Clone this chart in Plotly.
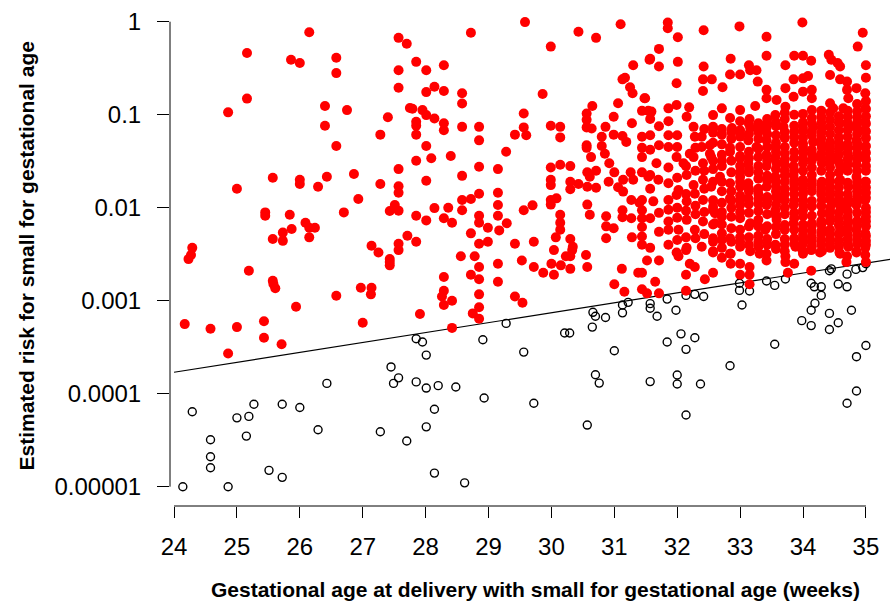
import plotly.graph_objects as go

# ---------------- data ----------------
# Red filled points: estimated risk above the cut-off line
red_x_a = [26.15,25.16,25.86,26.00,26.58,26.58,27.57,27.70,27.57,27.57,25.16,24.86,26.40,26.75,26.40,26.58,27.40,27.28,27.75,27.57,
           25.57,26.00,26.00,25.00,26.29,26.43,26.86,27.28,27.57,27.57,26.93,26.70,25.45,25.45,25.84,27.43,27.51,27.57,26.09,26.15,
           26.24,26.15,25.73,25.87,25.57,25.73,24.29,24.27,24.23,27.14,27.25,27.57,27.57,27.71,27.43,25.19,25.57,25.58,25.61,25.94,
           26.58,26.97,27.14,27.13,27.43,27.43,24.17,24.58,25.00,25.43,25.43,25.71,24.86,27.00,27.91,
           27.85,27.79,27.95,27.85,27.85,27.85,27.85,27.85,27.85]
red_y_a = [0.77,0.46,0.39,0.36,0.41,0.28,0.67,0.58,0.30,0.195,0.149,0.106,0.124,0.112,0.076,0.046,0.094,0.061,0.118,0.026,
           0.021,0.020,0.018,0.016,0.0168,0.0215,0.023,0.018,0.017,0.0145,0.0124,0.0089,0.0089,0.0082,0.0084,0.0092,0.0107,0.0093,0.0069,0.0061,
           0.0061,0.0048,0.0054,0.0059,0.0046,0.0044,0.0037,0.0031,0.0028,0.0039,0.0033,0.0041,0.0035,0.0050,0.0028,0.0021,0.00164,0.00151,0.00136,0.00086,
           0.00113,0.00138,0.00138,0.00117,0.0026,0.0024,0.00056,0.00050,0.00052,0.00060,0.00040,0.00034,0.00027,0.00058,0.00072,
           0.37,0.116,0.112,0.084,0.076,0.061,0.032,0.0082,0.0043]

red_x_b = [28.72,29.58,29.99,28.01,28.29,28.01,28.14,28.29,28.58,28.58,28.01,28.14,28.29,28.29,28.58,28.85,28.85,28.01,28.09,28.40,
           28.01,28.58,28.85,29.15,29.28,29.56,29.56,29.60,29.42,29.86,29.99,29.99,29.99,29.99,29.99,29.99,29.70,29.56,29.42,29.72,
           29.15,29.15,29.15,29.29,29.17,28.99,28.85,28.85,28.85,28.72,28.58,28.58,28.72,28.85,28.99,28.14,28.36,28.29,28.42,28.01,
           28.56,28.78,29.15,28.85,28.72,28.85,28.29,29.15,29.53,29.72,29.87,28.29,28.26,28.29,28.42,28.85,28.85,28.75,28.85,29.42,
           29.54,28.42]
red_y_b = [0.76,0.99,0.54,0.30,0.34,0.175,0.20,0.18,0.17,0.132,0.099,0.091,0.081,0.068,0.074,0.074,0.053,0.046,0.034,0.036,
           0.0195,0.022,0.0276,0.026,0.040,0.103,0.073,0.060,0.061,0.167,0.076,0.027,0.020,0.0175,0.0121,0.0108,0.0106,0.0094,0.0041,0.0043,
           0.0145,0.0107,0.0082,0.0068,0.0057,0.0061,0.0141,0.0082,0.0069,0.0124,0.0121,0.0094,0.0053,0.0041,0.0043,0.0099,0.0100,0.0077,0.0069,0.0073,
           0.0030,0.0030,0.0025,0.0023,0.0019,0.0017,0.0018,0.0016,0.0027,0.0023,0.0020,0.00128,0.00111,0.0009,0.0010,0.00117,0.00085,0.00073,0.00064,0.00111,
           0.00095,0.00051]

red_x_c = [30.00,30.04,30.15,30.23,30.30,30.30,30.04,30.33,30.55,30.57,31.12,31.00,31.16,31.38,31.44,31.52,31.44,31.52,31.71,31.65,31.71,
           30.43,30.71,31.10,31.30,31.56,
           30.14,30.14,30.14,30.30,30.30,30.30,30.43,30.57,30.61,30.71,30.57,30.71,30.56,30.56,30.56,30.64,30.65,30.56,30.56,30.63,
           30.80,30.80,30.85,30.86,30.92,30.99,30.99,31.00,30.91,31.06,31.13,31.19,31.13,31.17,31.25,31.29,31.48,31.28,31.44,31.54,
           31.44,31.44,31.44,31.26,31.44,31.54,31.14,31.06,31.14,31.27,31.44,31.13,31.13,31.27,31.44,31.44,31.44,31.44,31.28,31.44,
           30.87,30.87,30.87,30.99,30.57,30.61,30.14,30.14,30.14,30.07,30.30,30.34,30.08,31.30,
           31.85,31.85,31.71,31.57,31.71,31.49,31.86,31.59,31.57,31.86,31.67,31.86,31.99,31.57,31.70,31.86,31.40,31.62,31.86,31.99,
           31.57,31.86,31.57,31.86,31.99,31.99,31.99,
           31.57,31.57,31.57,31.71,31.71,31.71,31.71,31.86,31.86,31.86,31.86]
red_y_c = [0.0025,0.0019,0.0024,0.0030,0.0030,0.0022,0.0035,0.0035,0.0031,0.0023,0.0022,0.0015,0.00125,0.0020,0.0020,0.0027,0.00133,0.0012,0.0027,0.0016,0.0012,
           0.78,0.67,0.94,0.34,0.39,
           0.074,0.057,0.029,0.028,0.019,0.0158,0.018,0.024,0.0215,0.025,0.0168,0.0164,0.103,0.088,0.073,0.071,0.124,0.047,0.044,0.035,
           0.058,0.046,0.038,0.074,0.030,0.095,0.061,0.024,0.019,0.133,0.059,0.051,0.24,0.25,0.197,0.170,0.150,0.081,0.110,0.110,
           0.058,0.044,0.035,0.024,0.024,0.0215,0.020,0.0166,0.0149,0.0121,0.0121,0.0094,0.0079,0.0077,0.0094,0.0077,0.0062,0.0049,0.0048,0.0040,
           0.0081,0.0063,0.0047,0.0060,0.0108,0.0084,0.0084,0.0069,0.0058,0.0048,0.0046,0.0038,0.0126,0.020,
           0.98,0.85,0.51,0.40,0.33,0.150,0.117,0.108,0.042,0.045,0.030,0.027,0.035,0.0225,0.020,0.0183,0.0113,0.0117,0.0121,0.0137,
           0.0077,0.0071,0.0037,0.0040,0.0033,0.218,0.127,
           0.016,0.060,0.090,0.0055,0.0088,0.047,0.075,0.0058,0.0095,0.060,0.085]

red_x_d = [32.42,32.99,32.01,32.01,32.42,32.85,33.14,33.26,33.16,32.84,33.00,33.28,32.41,32.55,32.41,32.72,32.19,33.24,32.57,32.71,
           32.84,33.00,33.15,32.15,32.26,32.28,32.57,32.71,32.87,33.00,33.16,33.29,33.42,32.00,32.20,32.39,32.39,32.52,32.52,32.84,
           33.00,33.13,33.26,33.42,
           32.10,32.26,32.41,32.54,32.71,32.84,33.00,33.00,33.13,33.29,33.42,33.42,
           32.02,32.15,32.26,32.41,32.54,32.68,32.84,33.00,33.00,33.13,33.29,33.42,
           32.15,32.28,32.41,32.57,32.71,32.84,33.00,33.13,33.29,33.42,
           32.02,32.15,32.28,32.41,32.60,32.60,32.71,32.84,33.00,33.00,33.16,33.29,33.40,
           32.15,32.39,32.57,32.71,32.84,33.00,33.16,33.29,33.42,
           32.02,32.14,32.57,32.71,32.85,32.85,33.00,33.15,33.31,33.42,32.20,32.28,32.14,32.44,32.57,33.00,33.15,33.15,32.14,
           33.42,33.42,33.42,33.42,
           32.00,32.00,32.00,32.00,32.00,32.14,32.14,32.14,32.14,32.29,32.29,32.29,32.29,32.29,
           32.43,32.43,32.43,32.43,32.43,32.57,32.57,32.57,32.57,32.71,32.71,32.71,32.71,32.71,
           32.86,32.86,32.86,32.86,32.86,33.00,33.00,33.00,33.00,33.00,33.00,
           33.14,33.14,33.14,33.14,33.14,33.29,33.29,33.29,33.29,33.29,33.43,33.43,33.43,33.43,33.43,33.43]
red_y_d = [0.81,0.89,0.68,0.37,0.33,0.40,0.34,0.30,0.30,0.27,0.27,0.227,0.24,0.24,0.18,0.197,0.120,0.124,0.099,0.117,
           0.092,0.112,0.090,0.095,0.074,0.058,0.074,0.061,0.072,0.068,0.072,0.081,0.072,0.045,0.038,0.058,0.045,0.047,0.038,0.044,
           0.058,0.053,0.045,0.053,
           0.030,0.035,0.030,0.035,0.037,0.040,0.034,0.028,0.030,0.035,0.037,0.028,
           0.0155,0.0225,0.0175,0.020,0.0168,0.0215,0.0183,0.0215,0.0168,0.0183,0.0205,0.0168,
           0.0117,0.0141,0.0121,0.0094,0.0113,0.0126,0.0107,0.0126,0.0141,0.0107,
           0.0058,0.0074,0.0058,0.0071,0.0087,0.0068,0.0053,0.0047,0.0077,0.0058,0.0068,0.0074,0.0058,
           0.0037,0.0038,0.0034,0.0037,0.0032,0.0038,0.0034,0.0038,0.0032,
           0.0030,0.0035,0.0033,0.0029,0.0032,0.0025,0.0025,0.0023,0.0032,0.0027,0.0025,0.0023,0.0019,0.0017,0.0020,0.0019,0.0019,0.0015,0.00128,
           0.69,0.43,0.185,0.150,
           0.0045,0.0078,0.0100,0.021,0.060,0.0048,0.0093,0.014,0.028,0.0047,0.0085,0.0105,0.025,0.044,
           0.0052,0.0090,0.016,0.025,0.070,0.0047,0.0066,0.012,0.026,0.0066,0.0090,0.015,0.028,0.048,
           0.0060,0.0100,0.015,0.024,0.055,0.0048,0.0090,0.0135,0.024,0.045,0.085,
           0.0048,0.0088,0.015,0.024,0.040,0.0050,0.0092,0.016,0.028,0.055,0.0046,0.0085,0.013,0.022,0.045,0.090]

red_x_e = [33.99,34.95,34.87,33.72,33.86,34.00,34.13,34.41,34.45,34.55,34.59,35.00,33.85,34.00,34.08,33.72,33.58,33.85,34.00,34.14,
           34.14,34.43,34.59,34.70,34.70,34.72,34.85,34.99,34.99,34.43,34.48,34.64,33.56,33.72,33.56,33.69,33.86,34.00,34.16,34.30,
           34.43,34.59,34.72,34.85,34.99,34.99,
           34.00,34.16,34.30,34.43,34.59,34.72,34.85,34.99,
           33.56,33.58,33.71,33.85,34.00,34.16,34.30,34.46,34.59,34.72,34.85,34.99,
           33.56,33.71,33.85,34.00,34.14,34.30,34.43,34.43,34.59,34.72,34.85,34.99,34.99,
           33.56,33.65,33.85,34.00,34.14,34.30,34.46,34.59,34.72,34.85,34.99,34.00,34.30,
           33.58,33.71,33.85,34.00,34.00,34.14,34.30,34.43,34.59,34.72,34.85,34.99,34.99,
           33.56,33.71,33.88,34.00,34.14,34.30,34.43,34.59,34.72,34.85,34.99,
           33.72,33.72,33.86,33.99,34.13,34.27,34.58,34.70,34.85,34.99,35.00,34.69,33.76,34.13]
red_y_e = [0.98,0.76,0.54,0.34,0.43,0.43,0.38,0.44,0.39,0.36,0.33,0.34,0.24,0.246,0.26,0.193,0.144,0.156,0.177,0.185,
           0.150,0.267,0.24,0.227,0.185,0.150,0.193,0.170,0.117,0.133,0.117,0.117,0.099,0.122,0.045,0.074,0.058,0.066,0.074,0.072,
           0.088,0.081,0.072,0.077,0.084,0.068,
           0.045,0.051,0.044,0.051,0.045,0.044,0.053,0.045,
           0.035,0.030,0.033,0.028,0.030,0.035,0.030,0.035,0.028,0.035,0.029,0.035,
           0.0215,0.019,0.0225,0.020,0.0225,0.019,0.0225,0.0168,0.020,0.0168,0.0215,0.019,0.0149,
           0.0094,0.0126,0.0107,0.0121,0.0103,0.0121,0.0113,0.0103,0.0121,0.0107,0.0121,0.0094,0.0087,
           0.0074,0.0058,0.0068,0.0081,0.0058,0.0068,0.0058,0.0071,0.0058,0.0071,0.0058,0.0074,0.0053,
           0.0040,0.0034,0.0038,0.0032,0.0038,0.0034,0.0037,0.0032,0.0038,0.0034,0.0037,
           0.0030,0.0026,0.0025,0.0035,0.0035,0.0033,0.0033,0.0030,0.0033,0.0031,0.0026,0.0026,0.0020,0.0021]

# Dense block near 33.5-35 weeks (column by column)
red_x_f = [33.57,33.57,33.57,33.57,33.71,33.71,33.71,33.71,33.71,33.71,33.86,33.86,33.86,33.86,33.86,33.86,
           34.00,34.00,34.00,34.00,34.00,34.14,34.14,34.14,34.14,34.14,34.14,34.14,
           34.29,34.29,34.29,34.29,34.29,34.29,34.29,34.43,34.43,34.43,34.43,34.43,34.43,34.43,34.43,
           34.57,34.57,34.57,34.57,34.57,34.57,34.57,34.57,34.57,
           34.71,34.71,34.71,34.71,34.71,34.71,34.71,34.71,34.71,
           34.86,34.86,34.86,34.86,34.86,34.86,34.86,34.86,34.86,34.86,34.86,
           35.00,35.00,35.00,35.00,35.00,35.00,35.00,35.00,35.00,35.00,35.00,35.00]
red_y_f = [0.0052,0.0130,0.0170,0.060,0.0046,0.0085,0.0140,0.0250,0.045,0.090,0.0047,0.0088,0.0140,0.0180,0.040,0.076,
           0.0045,0.0140,0.0250,0.0390,0.0560,0.0048,0.0082,0.0150,0.0270,0.0420,0.0600,0.0920,
           0.0045,0.0072,0.0140,0.0250,0.0380,0.0560,0.0950,0.0046,0.0058,0.0092,0.0135,0.0270,0.0400,0.0620,0.0100,
           0.0044,0.0075,0.0088,0.0140,0.0165,0.0240,0.0370,0.0570,0.0960,
           0.0046,0.0060,0.0092,0.0140,0.0250,0.0290,0.0390,0.0580,0.0950,
           0.0045,0.0072,0.0088,0.0132,0.0170,0.0250,0.0380,0.0440,0.0620,0.0940,0.130,
           0.0044,0.0063,0.0090,0.0100,0.0165,0.0250,0.0280,0.0390,0.0560,0.0960,0.140,0.25]

red_x_g = [34.00]*11 + [34.14]*11 + [34.29]*11 + [34.43]*11 + [34.57]*11 + [34.71]*12 + [34.86]*11 + [35.00]*12
red_y_g = [0.0041,0.0051,0.0066,0.0108,0.0162,0.0182,0.034,0.049,0.072,0.083,0.102,
           0.0043,0.0056,0.0064,0.0118,0.0172,0.0195,0.032,0.038,0.066,0.080,0.112,
           0.0040,0.0052,0.0066,0.0105,0.0160,0.0182,0.034,0.048,0.064,0.082,0.110,
           0.0041,0.0052,0.0080,0.0122,0.0150,0.0195,0.031,0.035,0.046,0.074,0.105,
           0.0038,0.0052,0.0065,0.0112,0.0122,0.0190,0.031,0.043,0.050,0.068,0.082,
           0.0041,0.0052,0.0068,0.0080,0.0110,0.0122,0.0185,0.033,0.048,0.068,0.082,0.110,
           0.0041,0.0050,0.0065,0.0115,0.0150,0.0190,0.033,0.050,0.072,0.082,0.108,
           0.0040,0.0050,0.0071,0.0080,0.0128,0.0145,0.0190,0.033,0.046,0.066,0.080,0.115]

red_x_h = [33.57]*11 + [33.71]*11 + [33.86]*11 + [33.14]*8 + [33.29]*8 + [33.43]*7 + [32.57]*6 + [32.71]*5 + [32.86]*5 + [33.00]*5
red_y_h = [0.0036,0.0062,0.0082,0.0108,0.0150,0.0190,0.026,0.040,0.050,0.075,0.083,
           0.0040,0.0065,0.0100,0.0120,0.0160,0.0220,0.029,0.038,0.056,0.065,0.105,
           0.0041,0.0058,0.0077,0.0120,0.0160,0.0200,0.025,0.034,0.050,0.066,0.100,
           0.0040,0.0063,0.0110,0.0160,0.026,0.034,0.062,0.080,
           0.0043,0.0063,0.0110,0.0125,0.024,0.043,0.065,0.075,
           0.0040,0.0063,0.0118,0.0195,0.032,0.062,0.080,
           0.0043,0.0102,0.0190,0.032,0.050,0.064,
           0.0045,0.0080,0.0190,0.032,0.070,
           0.0043,0.0080,0.0120,0.032,0.065,
           0.0043,0.0120,0.0190,0.036,0.062]

# Open black circles: estimated risk below the cut-off line
open_x = [27.45,27.57,27.49,26.43,24.29,25.00,25.19,25.27,25.72,26.00,26.29,27.28,27.70,24.58,24.58,24.58,25.15,25.51,25.72,24.14,24.86,
          27.85,27.95,28.01,28.91,29.28,29.56,30.21,30.29,30.66,30.70,30.65,30.86,31.13,31.22,31.13,31.00,27.85,28.01,28.20,28.48,28.93,
          28.14,29.72,30.70,30.76,28.01,30.57,28.14,28.62,
          31.57,31.57,31.68,31.84,31.98,32.14,32.28,32.42,32.99,32.99,33.15,33.03,33.42,33.55,33.72,34.13,34.18,34.29,34.29,34.19,34.13,
          33.98,34.13,34.42,34.45,34.56,34.70,34.70,34.84,34.95,35.00,34.42,34.42,34.56,34.77,32.06,32.28,31.84,32.14,33.55,32.84,35.00,
          34.85,31.57,32.00,32.00,32.37,34.85,34.70,32.14]
open_y = [0.000194,0.000148,0.000129,0.000129,6.4e-5,5.5e-5,5.7e-5,7.7e-5,7.7e-5,7.1e-5,4.1e-5,3.9e-5,3.1e-5,3.2e-5,2.1e-5,1.6e-5,3.5e-5,1.5e-5,1.26e-5,1.0e-5,1.0e-5,
          0.00039,0.00036,0.00026,0.00038,0.00057,0.00028,0.00045,0.00045,0.00075,0.00068,0.00052,0.00066,0.0009,0.00096,0.00074,0.00029,0.000134,0.000115,0.000122,0.000118,9.0e-5,
          6.8e-5,7.9e-5,0.00016,0.00013,4.4e-5,4.6e-5,1.4e-5,1.1e-5,
          0.00093,0.00083,0.00068,0.00104,0.00079,0.00114,0.00117,0.00111,0.00154,0.00129,0.00127,0.00090,0.00163,0.00146,0.00171,0.00154,0.00141,0.00141,0.00114,0.00094,0.00079,
          0.00061,0.00054,0.00210,0.0022,0.00151,0.00141,0.00193,0.00217,0.00227,0.0025,0.00073,0.00049,0.00058,0.00079,0.00044,0.00040,0.00036,0.00030,0.00034,0.00020,0.00033,
          0.00025,0.000135,0.000159,0.000127,0.000127,0.000107,7.9e-5,5.9e-5]

# Cut-off line (end points)
line_x = [24.0, 35.4]
line_y = [1.7e-4, 2.8e-3]

# Axis ticks
x_ticks = [24, 25, 26, 27, 28, 29, 30, 31, 32, 33, 34, 35]
y_ticks = [0.00001, 0.0001, 0.001, 0.01, 0.1, 1]
y_tick_text = ["0.00001", "0.0001", "0.001", "0.01", "0.1", "1"]

x_title = "Gestational age at delivery with small for gestational age (weeks)"
y_title = "Estimated risk for small for gestational age"

# ---------------- figure ----------------
red_x = red_x_a + red_x_b + red_x_c + red_x_d + red_x_e + red_x_f + red_x_g + red_x_h
red_y = red_y_a + red_y_b + red_y_c + red_y_d + red_y_e + red_y_f + red_y_g + red_y_h

FONT = "Liberation Sans, Arial, sans-serif"

fig = go.Figure()
fig.add_trace(go.Scatter(x=open_x, y=open_y, mode="markers",
                         marker=dict(symbol="circle-open", size=8, color="black", line=dict(width=1.4)),
                         showlegend=False, hoverinfo="skip"))
fig.add_trace(go.Scatter(x=line_x, y=line_y, mode="lines",
                         line=dict(color="black", width=1.2), showlegend=False, hoverinfo="skip"))
fig.add_trace(go.Scatter(x=red_x, y=red_y, mode="markers",
                         marker=dict(symbol="circle", size=10, color="#ff0000", line=dict(width=0)),
                         showlegend=False, hoverinfo="skip"))

L, R, T, B = 170, 0, 10, 100
W, H = 890, 606

fig.update_layout(
    width=W, height=H,
    margin=dict(l=L, r=R, t=T, b=B, pad=0),
    plot_bgcolor="white", paper_bgcolor="white",
    font=dict(family=FONT, color="black"),
    xaxis=dict(range=[23.936, 35.383], showgrid=False, zeroline=False, showline=False,
               tickmode="array", tickvals=x_ticks, ticktext=[str(v) for v in x_ticks],
               ticks="outside", ticklen=11, tickwidth=1, tickcolor="black",
               tickfont=dict(size=24, family=FONT), ticklabelstandoff=8),
    yaxis=dict(type="log", range=[-5.2075, 0.1258], showgrid=False, zeroline=False, showline=False,
               tickmode="array", tickvals=y_ticks, ticktext=y_tick_text,
               ticks="outside", ticklen=12, tickwidth=1, tickcolor="black",
               tickfont=dict(size=24, family=FONT), ticklabelstandoff=11),
    shapes=[
        dict(type="line", xref="paper", yref="y", x0=0, x1=0, y0=y_ticks[0], y1=y_ticks[-1],
             line=dict(color="black", width=1)),
        dict(type="line", xref="x", yref="paper", x0=x_ticks[0], x1=x_ticks[-1], y0=0, y1=0,
             line=dict(color="black", width=1)),
    ],
    annotations=[
        dict(text="<b>" + x_title + "</b>", xref="paper", yref="paper", x=0.508, y=-0.169,
             xanchor="center", yanchor="middle", showarrow=False, font=dict(size=21, family=FONT)),
        dict(text="<b>" + y_title + "</b>", xref="paper", yref="paper", x=-0.1986, y=0.503,
             xanchor="center", yanchor="middle", showarrow=False, textangle=-90,
             font=dict(size=21, family=FONT)),
    ],
)

fig.write_html("out.html", config={"displayModeBar": False},
               post_script="document.body.style.margin='0';")
